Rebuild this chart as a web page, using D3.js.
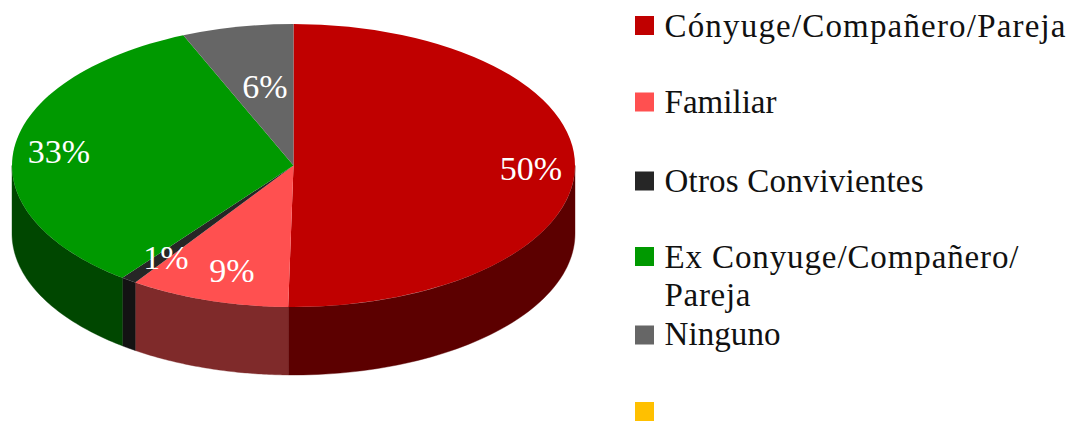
<!DOCTYPE html>
<html><head><meta charset="utf-8">
<script src="https://cdnjs.cloudflare.com/ajax/libs/d3/7.8.5/d3.min.js"></script>
<style>html,body{margin:0;padding:0;background:#fff}svg{display:block}</style></head>
<body><svg id="c" width="1072" height="421"></svg>
<script>
const categories = ["Cónyuge/Compañero/Pareja","Familiar","Otros Convivientes","Ex Conyuge/Compañero/Pareja","Ninguno",""];
const values = [50.3,9.2,0.9,33.2,6.4,0];
const labels = ["50%","9%","1%","33%","6%",""];
const topColors = ["#c00000","#ff5050","#262626","#009900","#666666","#ffc000"];
const sideColors = ["#5c0000","#7f2a2a","#131313","#004700","#333333","#7f6000"];
const legendLines = [["Cónyuge/Compañero/Pareja"],["Familiar"],["Otros Convivientes"],["Ex Conyuge/Compañero/","Pareja"],["Ninguno"],[]];
const legendWidths = [[401],[112],[259],[354,86],[116],[]];

const cx=293.5, cy=165.5, rx=281.5, ry=141.5, depth=68;
const svg=d3.select("#c");
const font="'Liberation Serif',serif";
const arcs=d3.pie().sort(null).value(d=>d)(values);

// walls: only the part of each slice facing the viewer
const px=t=>cx+rx*Math.sin(t), py=t=>cy-ry*Math.cos(t);
const line=d3.line();
const walls=svg.append("g");
arcs.forEach((a,i)=>{
  const s=Math.max(a.startAngle,Math.PI/2), e=Math.min(a.endAngle,Math.PI*1.5);
  if(e<=s) return;
  const ts=d3.range(0,61).map(k=>s+(e-s)*k/60);
  const upper=ts.map(t=>[px(t),py(t)]);
  const lower=ts.slice().reverse().map(t=>[px(t),py(t)+depth]);
  walls.append("path").attr("d",line(upper.concat(lower))+"Z")
    .attr("fill",sideColors[i]).attr("stroke",sideColors[i]).attr("stroke-width",.4);
});

// top face
const arc=d3.arc().innerRadius(0).outerRadius(rx);
svg.append("g").attr("transform",`translate(${cx},${cy}) scale(1,${ry/rx})`)
  .selectAll("path").data(arcs).join("path")
  .attr("d",arc).attr("fill",(d,i)=>topColors[i]);

// data labels
const labelPos=[[531,168],[232,270],[166,257],[59,151],[265,86]];
svg.append("g").selectAll("text").data(labels.slice(0,5)).join("text")
  .attr("x",(d,i)=>labelPos[i][0]).attr("y",(d,i)=>labelPos[i][1])
  .attr("dy","0.35em").attr("text-anchor","middle")
  .attr("font-family",font).attr("font-size",34).attr("fill","#fff").text(d=>d);

// legend
const swatchY=[25.5,102,181,256.5,335,411.5];
const baseY=[37,113,192,268,345,0];
const lg=svg.append("g").selectAll("g").data(categories).join("g");
lg.append("rect").attr("x",635).attr("y",(d,i)=>swatchY[i]-9.5).attr("width",19).attr("height",19)
  .attr("fill",(d,i)=>topColors[i]);
lg.each(function(d,i){
  d3.select(this).selectAll("text").data(legendLines[i]).join("text")
    .attr("x",664.5).attr("y",(l,j)=>baseY[i]+j*38)
    .attr("textLength",(l,j)=>legendWidths[i][j]).attr("lengthAdjust","spacing")
    .attr("font-family",font).attr("font-size",33).attr("fill","#111").text(l=>l);
});
</script></body></html>
